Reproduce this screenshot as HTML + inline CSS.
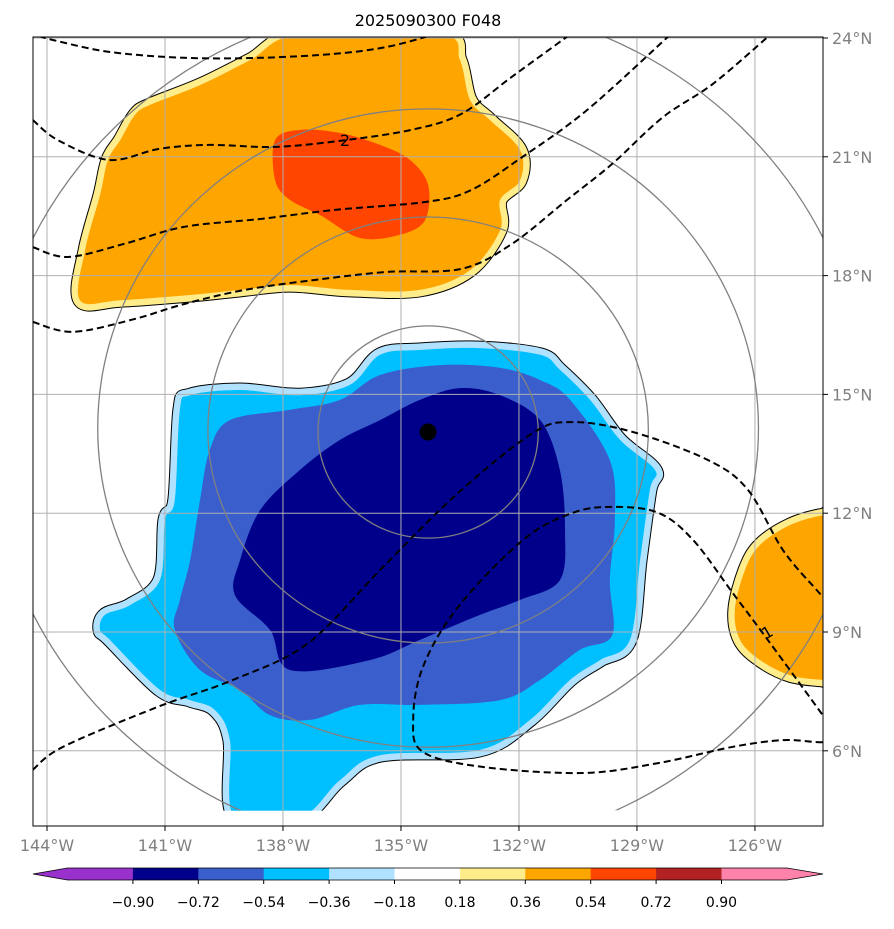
<!DOCTYPE html>
<html><head><meta charset="utf-8"><style>
body{margin:0;background:#fff;font-family:"Liberation Sans","DejaVu Sans",sans-serif;}
</style></head><body>
<svg id="chart" width="894" height="924" viewBox="0 0 894 924" xmlns="http://www.w3.org/2000/svg" font-family="DejaVu Sans, Liberation Sans, sans-serif">
<defs><clipPath id="mapclip"><rect x="33" y="37" width="790" height="789"/></clipPath></defs>
<rect width="894" height="924" fill="#fff"/>
<text x="428" y="26" text-anchor="middle" font-size="16">2025090300 F048</text>
<g id="map" clip-path="url(#mapclip)"></g>
<rect x="33" y="37" width="790" height="789" fill="none" stroke="#000" stroke-width="1"/>
<g id="axes"></g>
<g id="cbar"></g>
</svg>
<script>
const lonTicks=[-144,-141,-138,-135,-132,-129,-126];
const latTicks=[6,9,12,15,18,21,24];
const cbLevels=["−0.90","−0.72","−0.54","−0.36","−0.18","0.18","0.36","0.54","0.72","0.90"];
const cbColors=["#9932cc","#00008b","#3a5fcd","#00bfff","#b0e2ff","#ffffff","#ffec8b","#ffa500","#ff4500","#b22222","#ff82ab"];
const orangeTop=[[-143.16,17.38],[-143.03,18.65],[-142.65,20.04],[-142.45,20.92],[-142.14,21.42],[-141.76,22.06],[-141.38,22.31],[-140.11,22.81],[-138.84,23.44],[-137.57,24.1],[-134.0,24.1],[-133.5,23.44],[-133.24,22.43],[-132.74,21.93],[-131.97,21.17],[-131.97,20.41],[-132.48,19.91],[-132.48,19.15],[-133.24,18.14],[-134.52,17.64],[-136.30,17.64],[-137.82,17.76],[-139.09,17.64],[-140.36,17.51],[-142.14,17.38]];
const redTop=[[-138.2,21.42],[-137.57,21.68],[-136.55,21.6],[-135.53,21.3],[-134.77,20.92],[-134.31,20.29],[-134.39,19.40],[-135.03,19.03],[-136.04,18.95],[-137.06,19.53],[-137.82,19.91],[-138.2,20.41]];
const cyanLow=[[-142.53,9.43],[-142.65,9.05],[-142.40,8.80],[-141.13,7.54],[-140.36,7.28],[-139.73,7.03],[-139.35,6.27],[-139.22,4.3],[-137.57,4.3],[-136.55,5.26],[-135.53,5.89],[-133.0,6.02],[-131.72,6.78],[-130.70,7.79],[-129.94,8.29],[-129.18,8.80],[-128.92,10.82],[-128.67,12.59],[-128.54,13.09],[-129.43,13.85],[-130.19,14.86],[-130.96,15.62],[-131.46,16.0],[-133.0,16.17],[-134.52,16.12],[-135.53,16.0],[-136.30,15.24],[-137.57,14.98],[-139.09,15.11],[-140.36,14.98],[-140.62,14.61],[-140.75,12.33],[-141.0,11.83],[-141.13,10.31],[-141.89,9.68]];
const blueLow=[[-140.75,9.05],[-140.62,9.81],[-140.36,10.82],[-140.11,12.33],[-139.86,13.6],[-139.35,14.35],[-137.82,14.61],[-136.55,14.86],[-135.53,15.49],[-134.0,15.74],[-132.48,15.67],[-131.46,15.36],[-130.70,14.86],[-129.69,13.34],[-129.56,11.83],[-129.69,10.31],[-129.63,8.92],[-130.45,8.55],[-131.46,7.79],[-132.48,7.28],[-134.52,7.16],[-136.04,7.16],[-137.31,6.78],[-138.33,6.9],[-139.09,7.54],[-140.11,8.04]];
const navyLow=[[-139.22,9.93],[-139.09,10.82],[-138.58,12.08],[-137.57,13.09],[-136.55,13.85],[-135.53,14.35],[-134.52,14.86],[-133.5,15.16],[-132.48,14.98],[-131.46,14.35],[-130.96,13.09],[-130.83,11.58],[-130.96,10.31],[-131.97,9.81],[-133.0,9.43],[-134.52,8.80],[-135.79,8.29],[-137.82,8.04],[-138.33,9.05]];
const orangeRight=[[-123.8,11.95],[-124.27,11.95],[-125.11,11.70],[-125.87,11.20],[-126.25,10.57],[-126.51,9.56],[-126.38,8.80],[-125.87,8.29],[-125.11,7.91],[-124.27,7.79],[-123.8,7.79]];
const dashA=[[-144.2,24.05],[-143.85,23.95],[-142.42,23.65],[-140.52,23.5],[-138.58,23.5],[-136.68,23.6],[-135.38,23.77],[-134.36,24.03]];
const dashB=[[-144.36,21.93],[-143.72,21.42],[-142.42,20.92],[-141.15,21.2],[-139.88,21.3],[-138.2,21.25],[-136.42,21.42],[-134.74,21.68],[-133.47,22.08],[-132.18,23.02],[-130.78,24.03]];
const dashC=[[-144.36,18.72],[-143.47,18.47],[-142.04,18.8],[-140.52,19.23],[-138.58,19.43],[-136.68,19.66],[-134.36,19.86],[-133.22,20.16],[-131.92,20.99],[-130.27,22.18],[-128.21,24.03]];
const dashD=[[-144.36,16.83],[-143.34,16.58],[-141.79,16.90],[-140.52,17.28],[-138.97,17.64],[-137.19,17.89],[-135.38,18.09],[-133.47,18.17],[-132.18,18.8],[-130.78,19.91],[-129.63,20.82],[-128.34,22.0],[-127.07,22.84],[-125.67,24.03]];
const dashE=[[-144.36,5.52],[-143.59,6.10],[-141.18,7.11],[-139.27,7.79],[-137.36,8.72],[-135.46,10.64],[-133.55,12.51],[-131.64,14.03],[-130.63,14.3],[-129.1,14.05],[-127.19,13.34],[-126.18,12.59],[-125.29,11.07],[-124.43,10.06],[-124.0,9.6]];
const dashF=[[-124.0,6.22],[-124.43,6.22],[-125.29,6.27],[-126.56,6.10],[-128.46,5.69],[-130.37,5.44],[-132.91,5.59],[-134.44,5.97],[-134.69,6.78],[-134.44,8.12],[-133.55,9.63],[-131.9,11.32],[-130.63,12.01],[-129.61,12.16],[-128.46,12.01],[-127.57,11.32],[-126.56,9.98],[-125.8,8.97],[-124.43,7.11],[-124.0,6.5]];
const stormCenter=[-134.31,14.05];
const ringRx=[2.8,5.6,8.4,11.2];
const ringRy=[2.68,5.38,8.06,10.73];

const NS="http://www.w3.org/2000/svg";
const X=lon=>47+(lon+144)*39.33;
const Y=lat=>38+(24-lat)*39.6;
function mk(tag,parent,attrs){const e=document.createElementNS(NS,tag);for(const k in attrs)e.setAttribute(k,attrs[k]);parent.appendChild(e);return e;}
function pts(arr){return arr.map(p=>X(p[0]).toFixed(1)+","+Y(p[1]).toFixed(1)).join(" ");}
function smooth(arr,closed){
  const P=arr.map(p=>[X(p[0]),Y(p[1])]);const n=P.length;
  const g=i=>closed?P[(i+n)%n]:P[Math.max(0,Math.min(n-1,i))];
  let d=`M${P[0][0].toFixed(1)},${P[0][1].toFixed(1)}`;
  const m=closed?n:n-1;
  for(let i=0;i<m;i++){
    const p0=g(i-1),p1=g(i),p2=g(i+1),p3=g(i+2);
    const c1=[p1[0]+(p2[0]-p0[0])/6,p1[1]+(p2[1]-p0[1])/6];
    const c2=[p2[0]-(p3[0]-p1[0])/6,p2[1]-(p3[1]-p1[1])/6];
    d+=`C${c1[0].toFixed(1)},${c1[1].toFixed(1)} ${c2[0].toFixed(1)},${c2[1].toFixed(1)} ${p2[0].toFixed(1)},${p2[1].toFixed(1)}`;
  }
  return d+(closed?'Z':'');
}
const map=document.getElementById('map');
const axes=document.getElementById('axes');
const cbar=document.getElementById('cbar');

function banded(arr,fill,band,name){
  const g=mk('g',map,{});
  
  
  const d=smooth(arr,true);
  mk('path',g,{d:d,fill:'#000',stroke:'#000','stroke-width':15,'stroke-linejoin':'round'});
  mk('path',g,{d:d,fill:band,stroke:band,'stroke-width':13,'stroke-linejoin':'round'});
  mk('path',g,{d:d,fill:fill,stroke:'none'});
  return g;
}
banded(orangeTop,cbColors[7],cbColors[6],'positive-anomaly-north');
const pr=mk('path',map,{d:smooth(redTop,true),fill:cbColors[8]});


banded(cyanLow,cbColors[3],cbColors[4],'negative-anomaly-region');
const pb=mk('path',map,{d:smooth(blueLow,true),fill:cbColors[2]});


const pn=mk('path',map,{d:smooth(navyLow,true),fill:cbColors[1]});


banded(orangeRight,cbColors[7],cbColors[6],'positive-anomaly-east');
const wm=mk('rect',map,{x:33,y:Y(4.5)+0.5,width:790,height:40,fill:'#fff'});



lonTicks.forEach(l=>{const e=mk('line',map,{x1:X(l),x2:X(l),y1:37,y2:826,stroke:'#b0b0b0','stroke-width':1});

});
latTicks.forEach(l=>{const e=mk('line',map,{x1:33,x2:823,y1:Y(l),y2:Y(l),stroke:'#b0b0b0','stroke-width':1});

});

const ringClip=mk('clipPath',document.querySelector('defs'),{id:'ringclip'});
mk('rect',ringClip,{x:33,y:37,width:790,height:Y(4.5)-37});
const rg=mk('g',map,{'clip-path':'url(#ringclip)'});
ringRx.forEach((rx,i)=>{const e=mk('ellipse',rg,{cx:X(stormCenter[0]),cy:Y(stormCenter[1])-(i===0?0:i*2),rx:rx*39.33,ry:ringRy[i]*39.6,fill:'none',stroke:'#808080','stroke-width':1.3});

});

[dashA,dashB,dashC,dashD,dashE,dashF].forEach(d=>{
  const e=mk('path',map,{d:smooth(d,false),fill:'none',stroke:'#000','stroke-width':2,'stroke-dasharray':'7,4'});
  
  
});
const l2=mk('text',map,{x:345,y:146,'font-size':16,'text-anchor':'middle'});l2.textContent='2';


const l1=mk('text',map,{x:767,y:638,'font-size':16,'text-anchor':'middle',transform:'rotate(-30 767 632)'});l1.textContent='1';



const dot=mk('circle',map,{cx:X(stormCenter[0]),cy:Y(stormCenter[1]),r:8.5,fill:'#000'});



lonTicks.forEach(l=>{
  mk('line',axes,{x1:X(l),x2:X(l),y1:826,y2:831,stroke:'#000'});
  const t=mk('text',axes,{x:X(l),y:851,'text-anchor':'middle','font-size':16,fill:'#808080'});
  t.textContent=Math.abs(l)+'°W';
  
  
});
latTicks.forEach(l=>{
  mk('line',axes,{x1:823,x2:828,y1:Y(l),y2:Y(l),stroke:'#000'});
  const t=mk('text',axes,{x:832,y:Y(l)+6,'font-size':16,fill:'#808080'});
  t.textContent=l+'°N';
  
  
});

// colorbar
const cx0=67.5,cw=65.4,cy=868,ch=12;
const xe=cx0+cbColors.length*cw;
mk('polygon',cbar,{points:`33,${cy+ch/2} ${cx0+1},${cy} ${cx0+1},${cy+ch}`,fill:cbColors[0]});
for(let i=0;i<cbColors.length;i++){
  const r=mk('rect',cbar,{x:cx0+i*cw,y:cy,width:cw+0.5,height:ch,fill:cbColors[i]});
  
  
}
mk('polygon',cbar,{points:`${xe-1},${cy} 823,${cy+ch/2} ${xe-1},${cy+ch}`,fill:cbColors[cbColors.length-1]});
mk('polygon',cbar,{points:`33,${cy+ch/2} ${cx0},${cy} ${xe},${cy} 823,${cy+ch/2} ${xe},${cy+ch} ${cx0},${cy+ch}`,fill:'none',stroke:'#000','stroke-width':0.8});
cbLevels.forEach((s,i)=>{
  const x=cx0+(i+1)*cw;
  mk('line',cbar,{x1:x,x2:x,y1:cy+ch,y2:cy+ch+4,stroke:'#000'});
  const t=mk('text',cbar,{x:x,y:907,'text-anchor':'middle','font-size':14});
  t.textContent=s;
  
  
});
</script>
</body></html>
